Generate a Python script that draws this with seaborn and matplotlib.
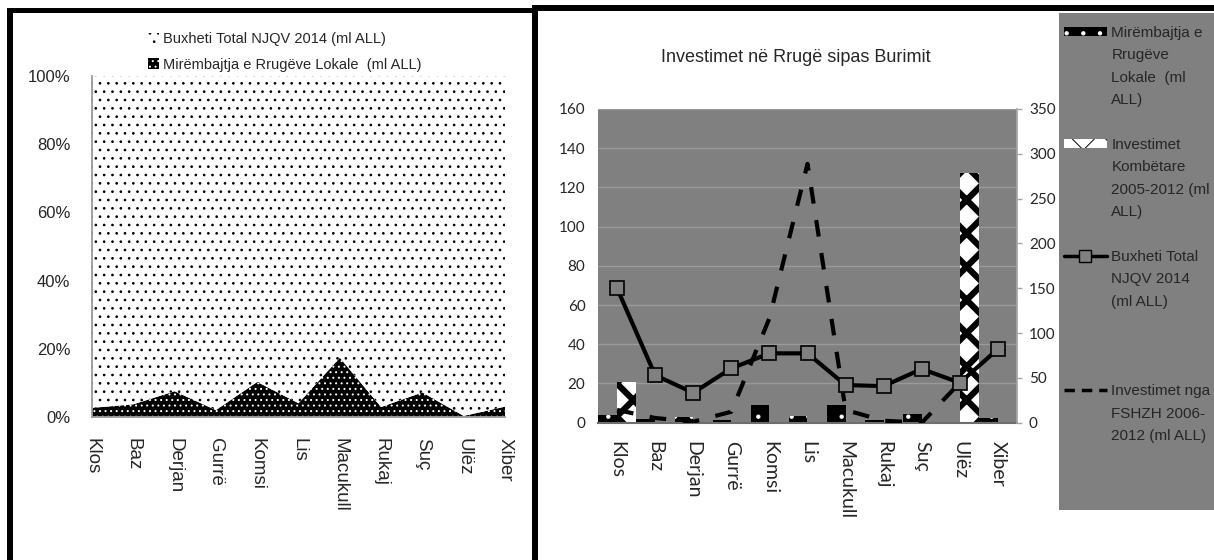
import numpy as np
import pandas as pd
import matplotlib.pyplot as plt
import matplotlib.patches as mpatches
from matplotlib.lines import Line2D
import seaborn as sns


categories = ["Klos", "Baz", "Derjan", "Gurrë", "Komsi", "Lis", "Macukull",
              "Rukaj", "Suç", "Ulëz", "Xiber"]

# ml ALL
mirembajtja = [4.0, 2.0, 2.7, 1.2, 8.8, 3.2, 8.8, 1.2, 4.6, 0.1, 2.5]
kombetare = [20.6, 0, 0, 0, 0, 0, 0, 0, 0, 127.4, 0]
buxheti = [150, 53, 33.4, 60.6, 77.4, 77.4, 42, 40.9, 59.9, 44.6, 82.2]
fshzh = [6.5, 2.4, 0.5, 5.6, 53.3, 132, 6.5, 1.0, 0.0, 20.4, np.nan]

lab_m = "Mirëmbajtja e Rrugëve Lokale  (ml ALL)"
lab_k = "Investimet Kombëtare 2005-2012 (ml ALL)"
lab_b = "Buxheti Total NJQV 2014 (ml ALL)"
lab_f = "Investimet nga FSHZH 2006-2012 (ml ALL)"

left_ticks = [0, 20, 40, 60, 80, 100]
right_ticks_l = list(range(0, 161, 20))
right_ticks_r = list(range(0, 351, 50))

sns.set_theme(style="white")
plt.rcParams["font.family"] = ["Liberation Sans", "DejaVu Sans"]
plt.rcParams["hatch.linewidth"] = 0.7

W, H = 1214, 560
fig = plt.figure(figsize=(W / 100, H / 100), dpi=100)


def fx(px):
    return px / W


def fy(py):
    return 1 - py / H


def thick_hatch(p, lw=4.5):
    if hasattr(p, "set_hatch_linewidth"):
        p.set_hatch_linewidth(lw)


# ---------------- left panel: 100% stacked area ----------------
ax1 = fig.add_axes([fx(92), fy(416.7), fx(505) - fx(92), fy(76.3) - fy(416.7)])
m = np.array(mirembajtja)
b = np.array(buxheti)
pct_m = m / (m + b) * 100
x = np.arange(len(categories))

ax1.fill_between(x, 0, pct_m, facecolor="black", edgecolor="white",
                 hatch="...", lw=0, label=lab_m)
ax1.fill_between(x, pct_m, 100, facecolor="white", edgecolor="black",
                 hatch="..", lw=0, label=lab_b)
ax1.set_xlim(0, len(categories) - 1)
ax1.set_ylim(0, 100)
ax1.set_xticks(x)
ax1.set_xticklabels(categories, rotation=270, fontsize=13.5)
ax1.set_yticks(left_ticks)
ax1.set_yticklabels([f"{t}%" for t in left_ticks], fontsize=12)
for s in ["top", "right"]:
    ax1.spines[s].set_visible(False)
for s in ["left", "bottom"]:
    ax1.spines[s].set_color("#9a9a9a")
    ax1.spines[s].set_linewidth(1.3)
ax1.tick_params(axis="x", length=4.5, width=1.3, color="#9a9a9a", pad=11)
ax1.tick_params(axis="y", length=4.5, width=1.3, color="#9a9a9a", pad=11)

hb = mpatches.Patch(facecolor="white", edgecolor="black", hatch="..", lw=0)
hm = mpatches.Patch(facecolor="black", edgecolor="white", hatch="...", lw=0)
fig.legend([hb, hm], [lab_b, lab_m], loc="center",
           bbox_to_anchor=(fx(285), fy(52)), frameon=False, fontsize=10.5,
           handlelength=0.7, handleheight=0.8, handletextpad=0.3,
           labelspacing=0.8, borderpad=0)

# ---------------- right panel: bars + lines ----------------
ax = fig.add_axes([fx(598), fy(422.7), fx(1017) - fx(598), fy(109) - fy(422.7)])
ax.set_facecolor("#808080")

bars = pd.DataFrame({
    "Komuna": categories * 2,
    "Seria": [lab_m] * len(categories) + [lab_k] * len(categories),
    "Vlera": mirembajtja + kombetare,
})
sns.barplot(data=bars, x="Komuna", y="Vlera", hue="Seria", order=categories,
            hue_order=[lab_m, lab_k], width=0.98, saturation=1,
            errorbar=None, legend=False, ax=ax)
for p in ax.containers[0]:
    p.set_facecolor("black")
    p.set_edgecolor("white")
    p.set_hatch(".")
    p.set_linewidth(0)
for p in ax.containers[1]:
    p.set_facecolor("white")
    p.set_edgecolor("black")
    p.set_hatch("x")
    p.set_linewidth(0)
    thick_hatch(p)

sns.lineplot(x=x, y=fshzh, ax=ax, color="black", lw=3,
             linestyle=(0, (4, 4)), zorder=5)

ax2 = ax.twinx()
sns.lineplot(x=x, y=buxheti, ax=ax2, color="black", lw=3, marker="s",
             markersize=10, markerfacecolor="#808080",
             markeredgecolor="black", markeredgewidth=1.2)

ax.set_xlim(-0.5, len(categories) - 0.5)
ax.set_ylim(0, 160)
ax2.set_ylim(0, 350)
ax.set_yticks(right_ticks_l)
ax2.set_yticks(right_ticks_r)
ax.set_xlabel("")
ax.set_ylabel("")
ax2.set_ylabel("")
ax.yaxis.grid(True, color="#9a9a9a", lw=1)
ax.set_axisbelow(True)

calib = ["Lato", "DejaVu Sans"]
ax.set_xticks(x)
ax.set_xticklabels(categories, rotation=270, fontsize=14, family=calib)
for t in ax.get_yticklabels():
    t.set_fontsize(11)
    t.set_family(calib)
for t in ax2.get_yticklabels():
    t.set_fontsize(11)
    t.set_family(calib)
ax.tick_params(axis="x", length=0, pad=13.5)
ax.tick_params(axis="y", length=0, pad=9)
ax2.tick_params(axis="y", length=3.6, width=1, color="#a6a6a6", pad=5)
for s in ["top", "left", "right"]:
    ax.spines[s].set_visible(False)
ax.spines["bottom"].set_color("#6e6e6e")
ax.spines["bottom"].set_linewidth(1.5)
for s in ["top", "left", "bottom"]:
    ax2.spines[s].set_visible(False)
ax2.spines["right"].set_color("#a6a6a6")

fig.text(fx(796), fy(57), "Investimet në Rrugë sipas Burimit",
         ha="center", va="center", fontsize=13)

# legend box on the right
fig.add_artist(mpatches.Rectangle((fx(1059), fy(510)), fx(1214) - fx(1059),
                                  fy(13) - fy(510), transform=fig.transFigure,
                                  facecolor="#808080", edgecolor="none"))
lh_m = mpatches.Patch(facecolor="black", edgecolor="white", hatch=".", lw=0)
lh_k = mpatches.Patch(facecolor="white", edgecolor="black", hatch="x", lw=0)
thick_hatch(lh_k)
lh_b = Line2D([], [], color="black", lw=2.5, marker="s", markersize=9,
              markerfacecolor="#808080", markeredgecolor="black")
lh_f = Line2D([], [], color="black", lw=2.5, linestyle=(0, (3, 2)))
blank = mpatches.Patch(facecolor="none", edgecolor="none")

rows = [
    (lh_m, "Mirëmbajtja e"), (blank, "Rrugëve"), (blank, "Lokale  (ml"),
    (blank, "ALL)"), (blank, " "),
    (lh_k, "Investimet"), (blank, "Kombëtare"), (blank, "2005-2012 (ml"),
    (blank, "ALL)"), (blank, " "),
    (lh_b, "Buxheti Total"), (blank, "NJQV 2014"), (blank, "(ml ALL)"),
    (blank, " "), (blank, " "), (blank, " "),
    (lh_f, "Investimet nga"), (blank, "FSHZH 2006-"), (blank, "2012 (ml ALL)"),
]
fig.legend([r[0] for r in rows], [r[1] for r in rows], loc="upper left",
           bbox_to_anchor=(fx(1064), fy(26)), frameon=False, fontsize=11,
           handlelength=2.8, handleheight=0.55, handletextpad=0.3,
           labelspacing=0.55, borderpad=0, borderaxespad=0)

# panel frames
def frame(x0, y0, x1, y1):
    fig.add_artist(mpatches.Rectangle((fx(x0), fy(y1)), fx(x1) - fx(x0),
                                      fy(y0) - fy(y1), transform=fig.transFigure,
                                      facecolor="black", edgecolor="none"))


frame(7, 8, 538, 13)
frame(7, 8, 13, 560)
frame(532, 5, 538, 560)
frame(532, 5, 1214, 11)

fig.savefig("out.png", dpi=100)
